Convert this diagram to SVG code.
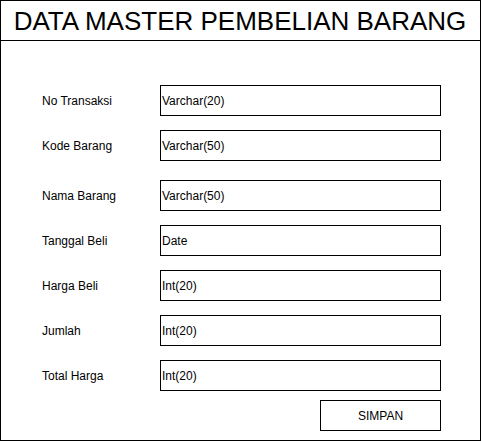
<svg xmlns="http://www.w3.org/2000/svg" width="482" height="442" viewBox="0 0 482 442">
<style>
.box{fill:#fff;stroke:#000;stroke-width:1}
.lbl{font-family:"Liberation Sans",Arial,sans-serif;font-size:12px;fill:#000;dominant-baseline:central}
.title{font-family:"Liberation Sans",Arial,sans-serif;font-size:26px;fill:#000;text-anchor:middle;dominant-baseline:central}
</style>
<rect width="482" height="442" fill="#fff"/>
<g id="frame">
<rect class="box" x="0.5" y="0.5" width="480" height="440"/>
<line x1="0.5" y1="40.5" x2="480.5" y2="40.5" stroke="#000"/>
<text class="title" x="240" y="20.5">DATA MASTER PEMBELIAN BARANG</text>
</g>
<g id="no-transaksi">
<text class="lbl" x="42" y="100.5">No Transaksi</text>
<rect class="box" x="160.5" y="85.5" width="280" height="30"/>
<text class="lbl" x="162" y="100.5">Varchar(20)</text>
</g>
<g id="kode-barang">
<text class="lbl" x="42" y="145.5">Kode Barang</text>
<rect class="box" x="160.5" y="130.5" width="280" height="30"/>
<text class="lbl" x="162" y="145.5">Varchar(50)</text>
</g>
<g id="nama-barang">
<text class="lbl" x="42" y="195.5">Nama Barang</text>
<rect class="box" x="160.5" y="180.5" width="280" height="30"/>
<text class="lbl" x="162" y="195.5">Varchar(50)</text>
</g>
<g id="tanggal-beli">
<text class="lbl" x="42" y="240.5">Tanggal Beli</text>
<rect class="box" x="160.5" y="225.5" width="280" height="30"/>
<text class="lbl" x="162" y="240.5">Date</text>
</g>
<g id="harga-beli">
<text class="lbl" x="42" y="285.5">Harga Beli</text>
<rect class="box" x="160.5" y="270.5" width="280" height="30"/>
<text class="lbl" x="162" y="285.5">Int(20)</text>
</g>
<g id="jumlah">
<text class="lbl" x="42" y="330.5">Jumlah</text>
<rect class="box" x="160.5" y="315.5" width="280" height="30"/>
<text class="lbl" x="162" y="330.5">Int(20)</text>
</g>
<g id="total-harga">
<text class="lbl" x="42" y="375.5">Total Harga</text>
<rect class="box" x="160.5" y="360.5" width="280" height="30"/>
<text class="lbl" x="162" y="375.5">Int(20)</text>
</g>
<g id="simpan">
<rect class="box" x="320.5" y="400.5" width="120" height="30"/>
<text class="lbl" x="380.5" y="415.5" text-anchor="middle">SIMPAN</text>
</g>
<g id="connectors"/>
</svg>
